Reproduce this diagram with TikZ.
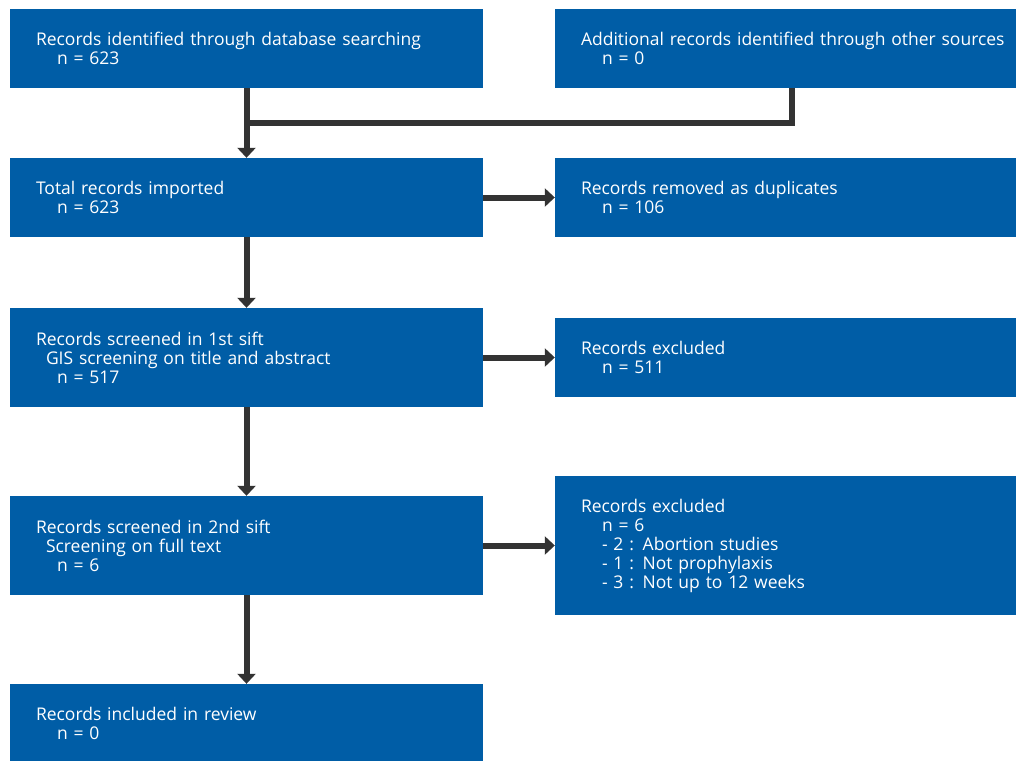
\documentclass[tikz,border=0pt]{standalone}
\usepackage{fontspec}
\setmainfont{Open Sans}
\usetikzlibrary{arrows.meta}
\definecolor{boxblue}{RGB}{0,93,166}
\definecolor{linegray}{RGB}{51,51,51}
\tikzset{
  recbox/.style={fill=boxblue, text=white, minimum width=473pt, minimum height=#1, text width=421pt, align=left, inner sep=0pt, font=\fontsize{17.5}{19}\selectfont},
  recbox/.default=79pt,
  flow/.style={draw=linegray, line width=6pt},
  flowarr/.style={flow, -{Triangle[width=18pt,length=10pt]}}
}
\newcommand{\ind}[1]{\hspace*{#1pt}}
\begin{document}
\begin{tikzpicture}[x=1pt, y=-1pt]
\useasboundingbox (0,0) rectangle (1016,760);
\clip (0,0) rectangle (1016,760);
\node[recbox] (ident) at (246.5,48.5) {Records identified through database searching\\\ind{21}n = 623};
\node[recbox] (other) at (791.5,48.5) {\mbox{Additional records identified through other sources}\\\ind{21}n = 0};
\node[recbox] (total) at (246.5,197.5) {Total records imported\\\ind{21}n = 623};
\node[recbox] (dupl) at (791.5,197.5) {Records removed as duplicates\\\ind{21}n = 106};
\node[recbox=99pt] (sift1) at (246.5,357.5) {Records screened in 1st sift\\\ind{10}GIS screening on title and abstract\\\ind{21}n = 517};
\node[recbox] (excl1) at (791.5,357.5) {Records excluded\\\ind{21}n = 511};
\node[recbox=99pt] (sift2) at (246.5,545.5) {Records screened in 2nd sift\\\ind{10}Screening on full text\\\ind{21}n = 6};
\node[recbox=139pt] (excl2) at (791.5,545.5) {Records excluded\\\ind{21}n = 6\\\ind{21}- 2 : Abortion studies\\\ind{21}- 1 : Not prophylaxis\\\ind{21}- 3 : Not up to 12 weeks};
\node[recbox] (incl) at (246.5,723.5) {Records included in review\\\ind{21}n = 0};
\coordinate (join) at (246.5,123);
\draw[flow] (other.south) |- (join);
\draw[flowarr] (ident) -- (total);
\foreach \a/\b in {total/sift1, sift1/sift2, sift2/incl, total/dupl, sift1/excl1, sift2/excl2}
  \draw[flowarr] (\a) -- (\b);
\end{tikzpicture}
\end{document}
